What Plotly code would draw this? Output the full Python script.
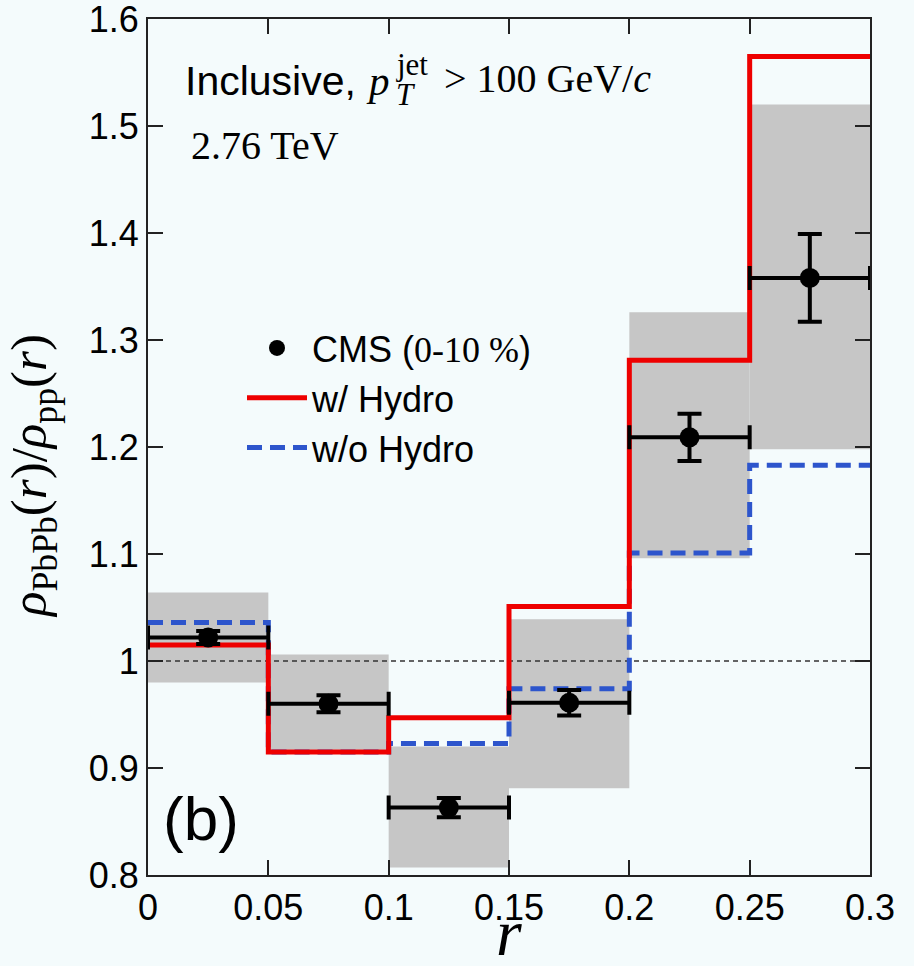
import plotly.graph_objects as go

# ---------------- data ----------------
r_edges = [0.0, 0.05, 0.10, 0.15, 0.20, 0.25, 0.30]
r_centers = [0.025, 0.075, 0.125, 0.175, 0.225, 0.275]
r_halfwidth = [0.025, 0.025, 0.025, 0.025, 0.025, 0.025]
cms_ratio = [1.022, 0.960, 0.863, 0.961, 1.209, 1.358]
cms_stat = [0.006, 0.008, 0.009, 0.012, 0.022, 0.041]
cms_sys_low = [0.980, 0.917, 0.807, 0.881, 1.096, 1.198]
cms_sys_high = [1.064, 1.006, 0.920, 1.039, 1.326, 1.520]
w_hydro = [1.015, 0.915, 0.947, 1.051, 1.281, 1.565]
wo_hydro = [1.036, 0.915, 0.923, 0.974, 1.101, 1.183]
x_ticktext = ["0", "0.05", "0.1", "0.15", "0.2", "0.25", "0.3"]
y_tickvals = [0.8, 0.9, 1.0, 1.1, 1.2, 1.3, 1.4, 1.5, 1.6]
y_ticktext = ["0.8", "0.9", "1", "1.1", "1.2", "1.3", "1.4", "1.5", "1.6"]
ref_level = 1.0

# ---------------- layout constants ----------------
W, H = 914, 966
ML, MR, MT, MB = 148, 44, 19, 91
PW, PH = W - ML - MR, H - MT - MB
BG = "#f4fbfc"
SANS = "Liberation Sans, Arial, sans-serif"
SERIF = "Liberation Serif, Times New Roman, serif"


def px(xp):
    return (xp - ML) / PW


def py(yp):
    return (H - MB - yp) / PH


fig = go.Figure()

# systematic uncertainty boxes
fig.add_trace(go.Bar(
    x=r_centers,
    y=[h - l for h, l in zip(cms_sys_high, cms_sys_low)],
    base=cms_sys_low,
    width=0.05,
    marker=dict(color="#c6c6c6", line=dict(width=0)),
    showlegend=False,
    hoverinfo="skip",
))

# reference line at unity
fig.add_trace(go.Scatter(
    x=[r_edges[0], r_edges[-1]], y=[ref_level, ref_level],
    mode="lines", line=dict(color="#333333", width=1.5, dash="5px,4px"),
    showlegend=False, hoverinfo="skip",
))

# w/o Hydro (blue dashed)
fig.add_trace(go.Scatter(
    x=r_edges, y=wo_hydro + [wo_hydro[-1]],
    mode="lines", line=dict(color="#2d55cc", width=5, dash="15px,8px", shape="hv"),
    name="w/o Hydro", legendrank=3,
))

# w/ Hydro (red)
fig.add_trace(go.Scatter(
    x=r_edges, y=w_hydro + [w_hydro[-1]],
    mode="lines", line=dict(color="#ee0000", width=5, shape="hv"),
    name="w/ Hydro", legendrank=2,
))

# CMS data
fig.add_trace(go.Scatter(
    x=r_centers, y=cms_ratio,
    mode="markers",
    marker=dict(color="black", size=20),
    error_x=dict(type="data", array=r_halfwidth, color="black", thickness=4, width=12),
    error_y=dict(type="data", array=cms_stat, color="black", thickness=4, width=12),
    name='CMS (<span style="font-family:Liberation Serif">0-10 %</span>)',
    legendrank=1,
))

annotations = [
    dict(text="Inclusive,", x=px(183), y=py(80.5), xanchor="left", yanchor="middle",
         font=dict(family=SANS, size=41, color="black")),
    dict(text="<i>p</i>", x=px(364), y=py(81), xanchor="left", yanchor="middle",
         font=dict(family=SERIF, size=41, color="black")),
    dict(text="<i>T</i>", x=px(394), y=py(94), xanchor="left", yanchor="middle",
         font=dict(family=SERIF, size=31, color="black")),
    dict(text="jet", x=px(394), y=py(64), xanchor="left", yanchor="middle",
         font=dict(family=SERIF, size=31, color="black")),
    dict(text="&gt; 100 GeV/<i>c</i>", x=px(442), y=py(79), xanchor="left", yanchor="middle",
         font=dict(family=SERIF, size=40, color="black")),
    dict(text="2.76 TeV", x=px(189), y=py(146), xanchor="left", yanchor="middle",
         font=dict(family=SERIF, size=40, color="black")),
    dict(text="(b)", x=px(161), y=py(818), xanchor="left", yanchor="middle",
         font=dict(family=SANS, size=62, color="black")),
    dict(text="<i>ρ</i><sub>PbPb</sub>(<i>r</i>)/<i>ρ</i><sub>pp</sub>(<i>r</i>)",
         x=px(33), y=py(476), xanchor="center", yanchor="middle", textangle=-90,
         font=dict(family=SERIF, size=51, color="black")),
    dict(text="<i>r</i>", x=px(509), y=py(932), xanchor="center", yanchor="middle",
         font=dict(family=SERIF, size=66, color="black")),
]
for a in annotations:
    a.update(xref="paper", yref="paper", showarrow=False)

axis_common = dict(
    showline=True, linecolor="#222222", linewidth=2, mirror="ticks",
    ticks="inside", ticklen=15, tickwidth=2, tickcolor="#222222",
    showgrid=False, zeroline=False, ticklabeloverflow="allow", automargin=False,
    tickfont=dict(family=SANS, size=36, color="black"),
)

fig.update_layout(
    width=W, height=H,
    margin=dict(l=ML, r=MR, t=MT, b=MB, pad=0, autoexpand=False),
    paper_bgcolor=BG, plot_bgcolor=BG,
    xaxis=dict(range=[r_edges[0], r_edges[-1] + 1e-9], tickvals=r_edges, ticktext=x_ticktext,
               **axis_common),
    yaxis=dict(range=[y_tickvals[0] - 1e-9, y_tickvals[-1] + 1e-9], tickvals=y_tickvals,
               ticktext=y_ticktext, **axis_common),
    legend=dict(x=px(242), y=py(318), xanchor="left", yanchor="top",
                bgcolor="rgba(0,0,0,0)", font=dict(family=SANS, size=36, color="black"),
                itemwidth=60, traceorder="normal"),
    annotations=annotations,
    barmode="overlay",
    showlegend=True,
)

fig.write_html("out.html")
